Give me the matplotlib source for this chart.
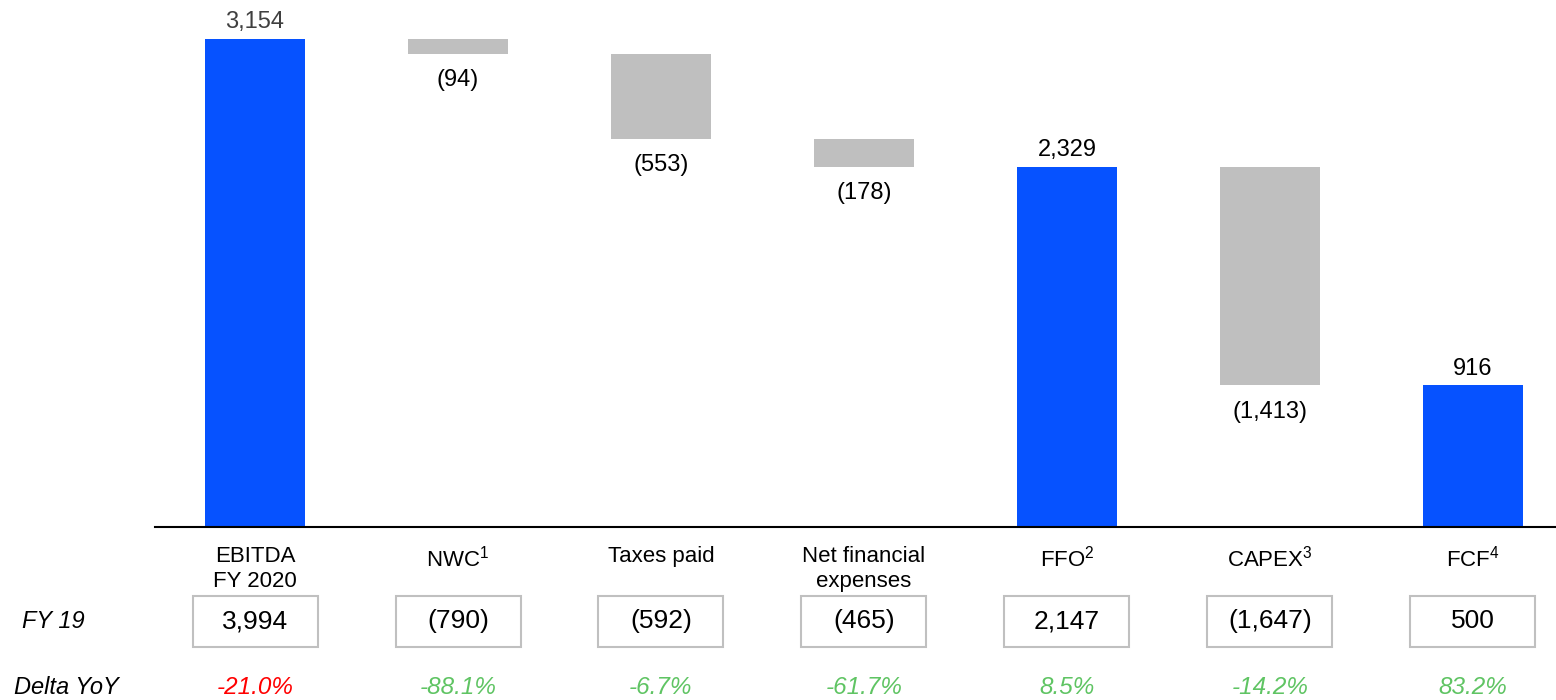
import matplotlib
matplotlib.use("Agg")
import matplotlib.pyplot as plt
from matplotlib.patches import Rectangle
from matplotlib.transforms import blended_transform_factory

plt.rcParams["font.family"] = ["Liberation Sans", "DejaVu Sans"]
plt.rcParams["mathtext.default"] = "regular"

categories = ["EBITDA\nFY 2020", "NWC$^1$", "Taxes paid", "Net financial\nexpenses",
              "FFO$^2$", "CAPEX$^3$", "FCF$^4$"]
values = [3154, -94, -553, -178, 2329, -1413, 916]
is_total = [True, False, False, False, True, False, True]
labels = ["3,154", "(94)", "(553)", "(178)", "2,329", "(1,413)", "916"]
fy19 = ["3,994", "(790)", "(592)", "(465)", "2,147", "(1,647)", "500"]
delta = ["-21.0%", "-88.1%", "-6.7%", "-61.7%", "8.5%", "-14.2%", "83.2%"]
delta_pos = [False, True, True, True, True, True, True]  # green = favourable

BLUE, GREY = "#0652FF", "#BFBFBF"
RED, GREEN = "#FF0000", "#5FC463"

fig = plt.figure(figsize=(15.56, 7), dpi=100)
ax = fig.add_axes([155 / 1556, 1 - 527 / 700, 1 - 155 / 1556, 527 / 700])

# waterfall: totals start at 0, deltas hang from running level
level = 0
for i, (v, tot, lab) in enumerate(zip(values, is_total, labels)):
    if tot:
        level = v
        ax.bar(i, v, bottom=0, width=0.493, color=BLUE)
        ax.annotate(lab, (i, v), xytext=(0, 4), textcoords="offset points",
                    ha="center", va="bottom", fontsize=17,
                    color="#404040" if i == 0 else "black")
    else:
        ax.bar(i, v, bottom=level, width=0.493, color=GREY)
        level += v
        ax.annotate(lab, (i, level), xytext=(0, -11), textcoords="offset points",
                    ha="center", va="top", fontsize=17, color="black")

ax.set_xlim(-0.493, 6.41)
ax.set_ylim(0, 3406)
for s in ["top", "right", "left"]:
    ax.spines[s].set_visible(False)
ax.spines["bottom"].set_linewidth(1.5)
ax.set_xticks([])
ax.set_yticks([])

tr = blended_transform_factory(ax.transData, fig.transFigure)
for i, cat in enumerate(categories):
    ax.text(i, 1 - 546 / 700, cat, transform=tr, ha="center", va="top",
            fontsize=16, linespacing=1.22, clip_on=False)
    ax.add_patch(Rectangle((i - 0.308, 1 - 647 / 700), 0.616, 51 / 700,
                           transform=tr, facecolor="none", edgecolor="#C0C0C0",
                           lw=1.5, clip_on=False))
    ax.text(i, 1 - 621 / 700, fy19[i], transform=tr, ha="center", va="center",
            fontsize=19, clip_on=False)
    ax.text(i, 1 - 688 / 700, delta[i], transform=tr, ha="center", va="center",
            fontsize=17.5, style="italic", color=GREEN if delta_pos[i] else RED,
            clip_on=False)

fig.text(22 / 1556, 1 - 621 / 700, "FY 19", ha="left", va="center",
         fontsize=17, style="italic")
fig.text(14 / 1556, 1 - 688 / 700, "Delta YoY", ha="left", va="center",
         fontsize=17, style="italic")

fig.savefig("out.png", dpi=100)
